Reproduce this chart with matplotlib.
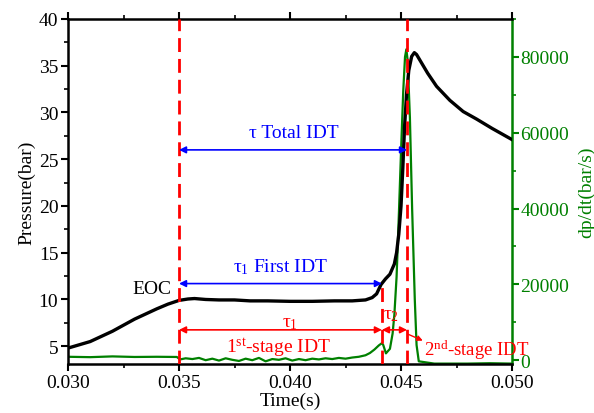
import matplotlib
matplotlib.use("Agg")
import matplotlib.pyplot as plt
from matplotlib.ticker import MultipleLocator

plt.rcParams['font.family'] = ['Liberation Serif', 'DejaVu Serif']
plt.rcParams['mathtext.fontset'] = 'custom'
plt.rcParams['mathtext.rm'] = 'Liberation Serif'
plt.rcParams['mathtext.it'] = 'Liberation Serif:italic'

# Pressure trace (bar)
t_p = [0.0300, 0.0310, 0.0320, 0.0330, 0.0340, 0.0345, 0.0350, 0.0354, 0.0357, 0.0362,
       0.0368, 0.0375, 0.0382, 0.0390, 0.0400, 0.0410, 0.0420, 0.0428, 0.0434, 0.0437,
       0.0439, 0.0441, 0.0443, 0.0445, 0.0447, 0.0448, 0.0449, 0.0450, 0.04508, 0.04516,
       0.04525, 0.04535, 0.04548, 0.0456, 0.0457, 0.0459, 0.0462, 0.0466, 0.0472, 0.0478,
       0.0484, 0.0491, 0.0500]
p = [4.8, 5.5, 6.6, 7.9, 9.0, 9.5, 9.9, 10.05, 10.1, 10.0,
     9.95, 9.95, 9.85, 9.85, 9.8, 9.8, 9.85, 9.85, 9.95, 10.2,
     10.6, 11.6, 12.2, 12.7, 13.8, 15.0, 17.0, 20.0, 24.0, 28.5,
     32.0, 34.5, 36.0, 36.4, 36.2, 35.4, 34.2, 32.8, 31.3, 30.1,
     29.3, 28.3, 27.1]

# Pressure rise rate (bar/s)
t_d = [0.0300, 0.0310, 0.0320, 0.0330, 0.0340, 0.0349, 0.03505, 0.0353, 0.0356, 0.0359,
       0.0362, 0.0365, 0.0368, 0.0371, 0.0374, 0.0377, 0.0380, 0.0383, 0.0386, 0.0389,
       0.0392, 0.0395, 0.0398, 0.0401, 0.0404, 0.0407, 0.0410, 0.0413, 0.0416, 0.0419,
       0.0422, 0.0425, 0.0428, 0.0431, 0.0434, 0.0436, 0.0438, 0.0440, 0.04414, 0.0442,
       0.04432, 0.0445, 0.04462, 0.0447, 0.0448, 0.0449, 0.0450, 0.0451, 0.04518, 0.04524,
       0.0453, 0.0454, 0.0455, 0.04562, 0.0457, 0.0458, 0.0465, 0.0480, 0.0490, 0.0500]
dpdt = [900, 800, 1000, 850, 900, 850, 200, 500, 300, 600,
        0, 400, -100, 500, 100, -200, 400, 0, 600, -300,
        300, 100, 500, -100, 300, 0, 400, 200, 500, 300,
        600, 400, 700, 900, 1300, 1900, 2800, 3900, 4500, 4000,
        1800, 3000, 7000, 12000, 22000, 38000, 55000, 71000, 80000, 82000,
        79000, 64000, 40000, 16000, 4000, -300, -900, -900, -800, -900]

# Markers of the ignition delay analysis (s)
t_eoc = 0.0350
t_first = 0.04414
t_total = 0.04527

FS = 14

fig = plt.figure(figsize=(5.94, 4.14), dpi=100)
ax = fig.add_axes([0.1145, 0.1184, 0.7475, 0.8333])
ax2 = ax.twinx()

ax.plot(t_p, p, color='black', lw=2.4, zorder=3)
ax2.plot(t_d, dpdt, color='green', lw=1.6, zorder=2)

ax.set_xlim(0.030, 0.050)
ax.set_ylim(3.1, 40)
ax2.set_ylim(-1000, 90000)

ax.set_zorder(ax2.get_zorder() + 1)
ax.patch.set_visible(False)

# vertical dashed lines
dash = dict(color='red', lw=2, ls=(0, (5, 2.5)), zorder=5)
ax.plot([t_eoc, t_eoc], [3.1, 40], **dash)
ax.plot([t_total, t_total], [3.1, 40], **dash)
ax.plot([t_first, t_first], [3.1, 11.4], **dash)

# blue arrows
bl = dict(arrowstyle='<|-|>', color='blue', lw=1.2, mutation_scale=10, shrinkA=0, shrinkB=0)
ax.annotate('', xy=(t_eoc, 26.0), xytext=(t_total, 26.0), arrowprops=bl, zorder=6)
ax.text(0.04015, 27.0, 'τ Total IDT', color='blue', fontsize=FS,
        ha='center', va='bottom')
ax.annotate('', xy=(t_eoc, 11.7), xytext=(t_first, 11.7), arrowprops=bl, zorder=6)
ax.text((t_eoc + t_first) / 2, 12.5, r'τ$_\mathrm{1}$ First IDT', color='blue', fontsize=FS,
        ha='center', va='bottom')

# red arrows
rd = dict(arrowstyle='<|-|>', color='red', lw=1.2, mutation_scale=10, shrinkA=0, shrinkB=0)
ax.annotate('', xy=(t_eoc, 6.75), xytext=(t_first, 6.75), arrowprops=rd, zorder=6)
ax.annotate('', xy=(t_first, 6.75), xytext=(t_total, 6.75), arrowprops=rd, zorder=6)
ax.text(0.0400, 7.5, r'τ$_\mathrm{1}$', color='red', fontsize=FS,
        ha='center', va='center')
ax.text(t_first + 0.00005, 8.4, r'τ$_\mathrm{2}$', color='red', fontsize=FS,
        ha='left', va='center')
ax.text(0.0395, 4.9, r'1$^\mathrm{st}$-stage IDT', color='red', fontsize=FS,
        ha='center', va='center')
ax.text(0.04603, 4.7, r'2$^\mathrm{nd}$-stage IDT', color='red', fontsize=13.5,
        ha='left', va='center', zorder=6, clip_on=False)
ax.annotate('', xy=(0.04598, 5.6), xytext=(t_total + 0.00003, 6.3),
            arrowprops=dict(arrowstyle='-|>', color='red', lw=1.0, mutation_scale=8,
                            shrinkA=0, shrinkB=0), zorder=6)

ax.text(0.03378, 11.2, 'EOC', color='black', fontsize=FS, ha='center', va='center')

# axes styling
ax.set_xlabel('Time(s)', fontsize=FS, labelpad=1)
ax.set_ylabel('Pressure(bar)', fontsize=FS, labelpad=2)
ax2.set_ylabel('dp/dt(bar/s)', fontsize=FS, color='green', labelpad=6)

ax.xaxis.set_major_locator(MultipleLocator(0.005))
ax.xaxis.set_minor_locator(MultipleLocator(0.0025))
ax.yaxis.set_minor_locator(MultipleLocator(2.5))
ax2.yaxis.set_major_locator(MultipleLocator(20000))
ax2.yaxis.set_minor_locator(MultipleLocator(10000))
ax.xaxis.set_major_formatter(plt.FuncFormatter(lambda v, _: f'{v:.3f}'))
ax.set_yticks([5, 10, 15, 20, 25, 30, 35, 40])

for s in ['left', 'bottom', 'top']:
    ax.spines[s].set_linewidth(1.8)
ax.spines['right'].set_visible(False)
ax2.spines['right'].set_color('green')
ax2.spines['right'].set_linewidth(1.8)
for s in ['left', 'bottom', 'top']:
    ax2.spines[s].set_visible(False)

ax.tick_params(axis='both', which='major', labelsize=FS, width=1.5, length=5,
               direction='out', pad=2)
ax.tick_params(axis='both', which='minor', width=1.2, length=3, direction='out')
ax.tick_params(axis='x', which='both', top=True)
ax2.tick_params(axis='y', which='major', labelsize=FS, colors='green', width=1.5,
                length=5, pad=1)
ax2.tick_params(axis='y', which='minor', colors='green', width=1.2, length=3)

fig.savefig('out.png', dpi=100)
